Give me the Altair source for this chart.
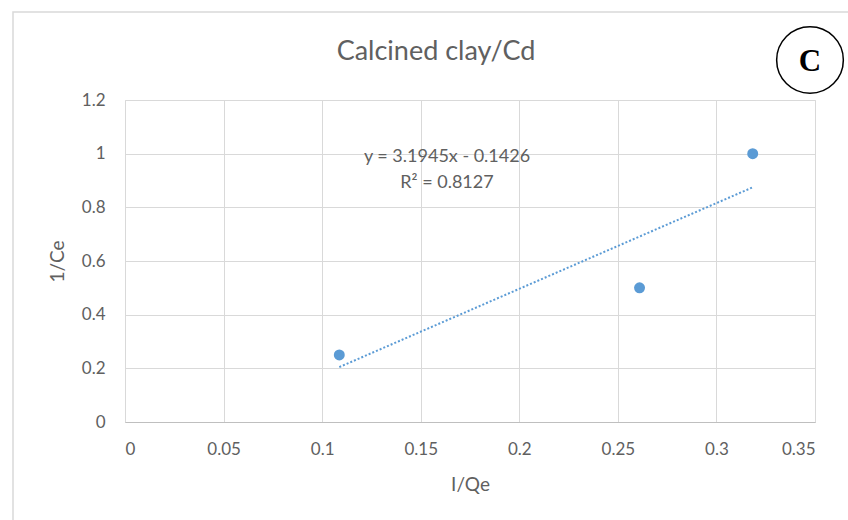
import altair as alt
import pandas as pd

# Langmuir linearisation data for calcined clay / Cd
inv_qe = [0.1087, 0.261, 0.3184]
inv_ce = [0.25, 0.5, 1.0]

# Fitted trend line reported on the chart
slope = 3.1945
intercept = -0.1426
r_squared = 0.8127

x_ticks = [0, 0.05, 0.1, 0.15, 0.2, 0.25, 0.3, 0.35]
y_ticks = [0, 0.2, 0.4, 0.6, 0.8, 1.0, 1.2]

title_text = "Calcined clay/Cd"
panel_letter = "C"
x_title = "I/Qe"
y_title = "1/Ce"

FONT = "Lato"
TEXT = "#606060"
GRID = "#d9d9d9"
BLUE = "#5b9bd5"

points = pd.DataFrame({"x": inv_qe, "y": inv_ce})
x_lo, x_hi = min(inv_qe), max(inv_qe)
trend = pd.DataFrame({"x": [x_lo, x_hi],
                      "y": [slope * x_lo + intercept, slope * x_hi + intercept]})
one = pd.DataFrame({"k": [0]})

x_scale = alt.Scale(domain=[0, 0.35], nice=False, zero=False)
y_scale = alt.Scale(domain=[0, 1.2], nice=False, zero=False)

x_enc = alt.X("x:Q", scale=x_scale, title=x_title,
              axis=alt.Axis(values=x_ticks, format="~g", grid=True, gridColor=GRID,
                            ticks=False, domainColor="#bfbfbf", labelColor=TEXT,
                            labelFont=FONT, labelFontSize=17, labelPadding=19,
                            titleColor=TEXT, titleFont=FONT, titleFontSize=19,
                            titleFontWeight="normal", titlePadding=18))
y_enc = alt.Y("y:Q", scale=y_scale, title=y_title,
              axis=alt.Axis(values=y_ticks, format="~g", grid=True, gridColor=GRID,
                            ticks=False, domain=False, labelColor=TEXT,
                            labelFont=FONT, labelFontSize=17, labelPadding=20,
                            titleColor=TEXT, titleFont=FONT, titleFontSize=19,
                            titleFontWeight="normal", titlePadding=14))

# outer chart frame
frame = alt.Chart(one).mark_rect(fill=None, stroke=GRID, strokeWidth=1.5).encode(
    x=alt.value(-112), x2=alt.value(760), y=alt.value(-88), y2=alt.value(480))

scatter = alt.Chart(points).mark_circle(size=120, color=BLUE, opacity=1).encode(
    x=x_enc, y=y_enc)

line = alt.Chart(trend).mark_line(color=BLUE, strokeWidth=2, strokeDash=[2, 2]).encode(
    x="x:Q", y="y:Q")

eq = alt.Chart(one).mark_text(font=FONT, fontSize=18, color=TEXT, align="center",
                              lineHeight=26, baseline="middle").encode(
    x=alt.value(322), y=alt.value(57),
    text=alt.value([f"y = {slope}x - {abs(intercept)}", f"R\u00b2 = {r_squared}"]))

title = alt.Chart(one).mark_text(font=FONT, fontSize=27, color=TEXT,
                                 align="center", baseline="middle").encode(
    x=alt.value(311), y=alt.value(-48), text=alt.value(title_text))

ring = alt.Chart(one).mark_point(shape="circle", size=4450, filled=False,
                                 color="black", strokeWidth=1.5, opacity=1).encode(
    x=alt.value(685), y=alt.value(-40))

letter = alt.Chart(one).mark_text(font="Liberation Serif", fontSize=31, fontWeight=600,
                                  color="black", align="center", baseline="middle").encode(
    x=alt.value(685), y=alt.value(-38), text=alt.value(panel_letter))

chart = alt.layer(frame, line, scatter, eq, title, ring, letter).properties(
    width=690, height=322,
    autosize=alt.AutoSizeParams(type="none"),
    padding={"left": 125, "top": 100, "right": 33, "bottom": 98},
).configure_view(stroke=GRID, strokeWidth=1).configure(background="white")

chart.save("out.html", embed_options={"renderer": "svg", "actions": False})
